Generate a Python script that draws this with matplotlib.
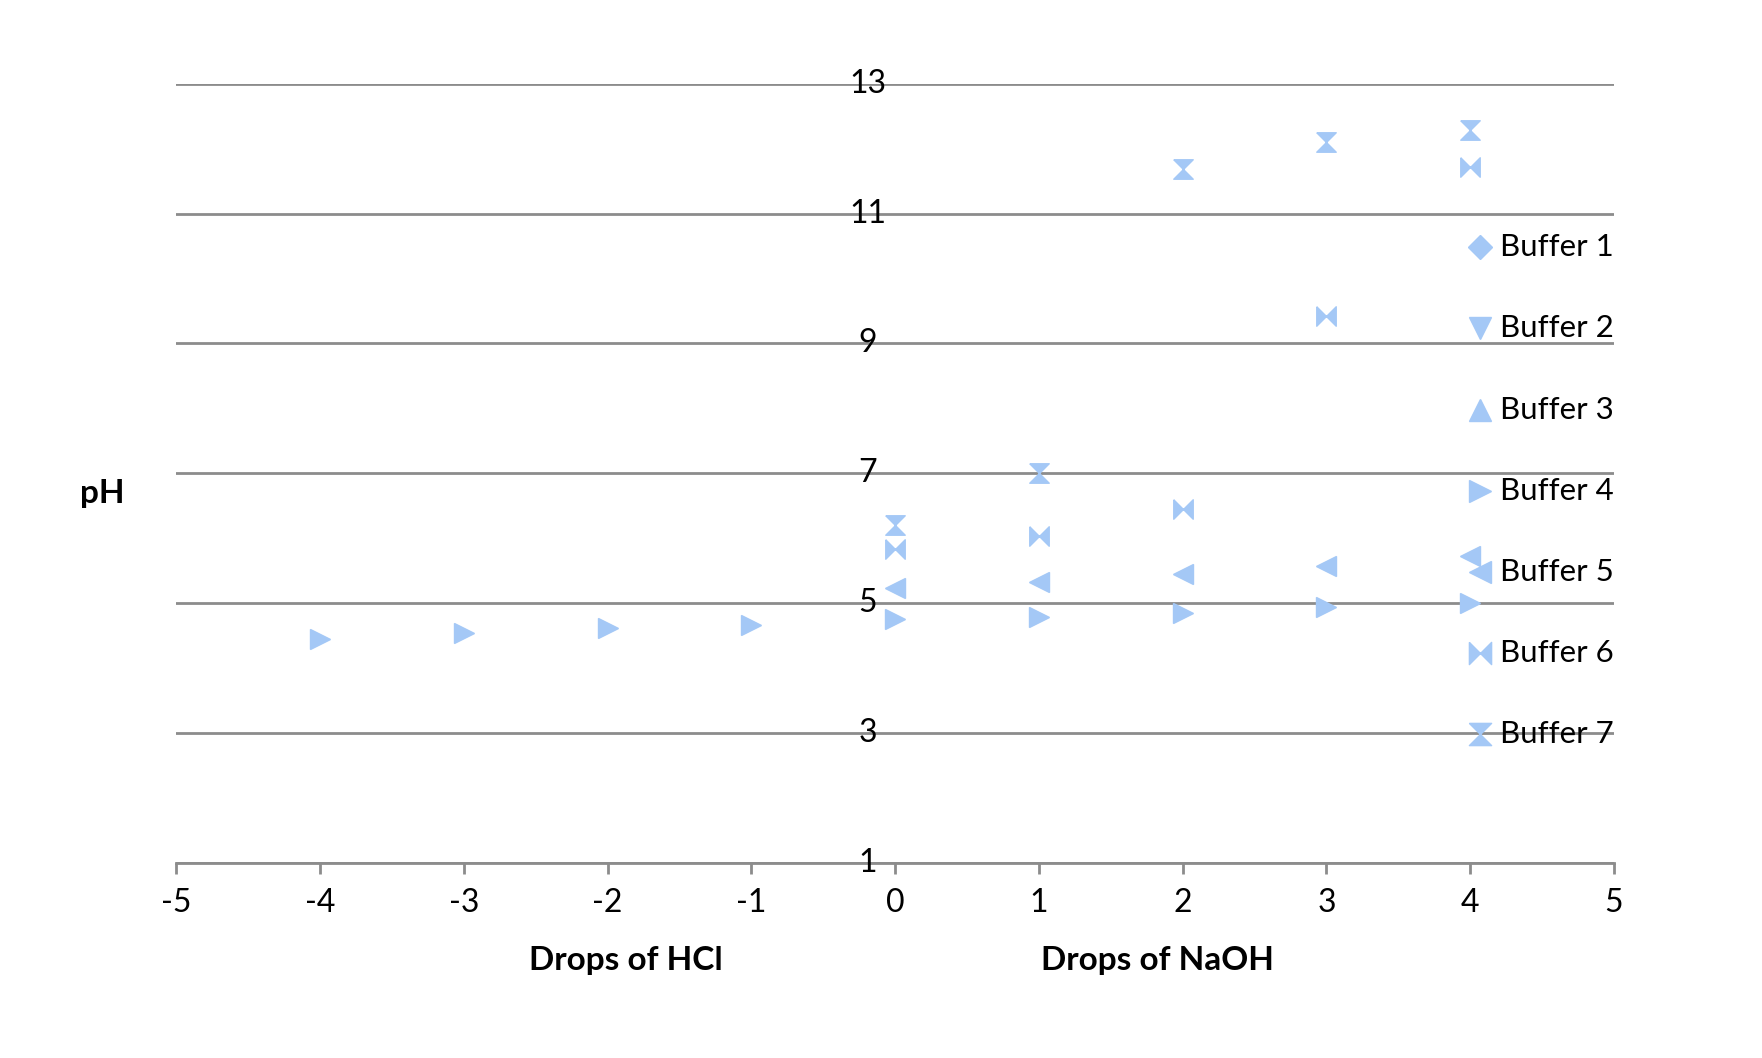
import matplotlib
matplotlib.use('Agg')
import matplotlib.pyplot as plt

plt.rcParams['font.family'] = ['Lato', 'DejaVu Sans']

drops = [0, 1, 2, 3, 4]
drops_b4 = [-4, -3, -2, -1, 0, 1, 2, 3, 4]
buffer4 = [4.46, 4.55, 4.62, 4.67, 4.76, 4.79, 4.86, 4.95, 5.0]
buffer5 = [5.24, 5.33, 5.45, 5.57, 5.73]
buffer6 = [5.83, 6.04, 6.45, 9.42, 11.72]
buffer7 = [6.21, 7.01, 11.68, 12.10, 12.29]
yticks = [1, 3, 5, 7, 9, 11, 13]
xticks = [-5, -4, -3, -2, -1, 0, 1, 2, 3, 4, 5]

color = '#a4c8f6'
bowtie = [(-1, 1), (-1, -1), (1, 1), (1, -1), (-1, 1)]
hourglass = [(-1, 1), (1, 1), (-1, -1), (1, -1), (-1, 1)]

fig = plt.figure(figsize=(17.62, 10.58), dpi=100)
ax = fig.add_axes([0.1, 0.184, 0.816, 0.737])
ms = 14
ax.plot(drops_b4, buffer4, '>', color=color, ms=ms, ls='none', label='Buffer 4')
ax.plot(drops, buffer5, '<', color=color, ms=ms, ls='none', label='Buffer 5')
ax.plot(drops, buffer6, marker=bowtie, color=color, ms=ms, ls='none', label='Buffer 6')
ax.plot(drops, buffer7, marker=hourglass, color=color, ms=ms, ls='none', label='Buffer 7')

ax.set_xlim(-5, 5)
ax.set_ylim(1, 13)
ax.set_xticks(xticks)
ax.set_xticklabels([str(v) for v in xticks], fontsize=23)
ax.set_yticks(yticks)
ax.set_yticklabels([])
for v in yticks:
    ax.axhline(v, color='#8c8c8c', lw=2, zorder=0)
    ax.text(-0.19, v, str(v), fontsize=23, ha='center', va='center')
for s in ['top', 'right', 'left']:
    ax.spines[s].set_visible(False)
ax.spines['bottom'].set_color('#8c8c8c')
ax.spines['bottom'].set_linewidth(2)
ax.tick_params(axis='x', length=8, width=2, color='#8c8c8c', pad=10)
ax.tick_params(axis='y', length=0)

# legend entries placed manually at the right side
legend = [('Buffer 1', 'D'), ('Buffer 2', 'v'), ('Buffer 3', '^'), ('Buffer 4', '>'),
          ('Buffer 5', '<'), ('Buffer 6', bowtie), ('Buffer 7', hourglass)]
for i, (name, m) in enumerate(legend):
    yy = 0.79 - i * 0.104
    ax.plot([0.907], [yy], marker=m, color=color, ms=16 if m != 'D' else 12,
            transform=ax.transAxes, clip_on=False, ls='none')
    ax.text(1.0, yy, name, transform=ax.transAxes, fontsize=22.5, ha='right', va='center')

fig.text(0.355, 0.083, 'Drops of HCl', fontsize=24, fontweight='bold', ha='center')
fig.text(0.657, 0.083, 'Drops of NaOH', fontsize=24, fontweight='bold', ha='center')
fig.text(0.058, 0.525, 'pH', fontsize=24, fontweight='bold', ha='center')

fig.savefig('out.png', dpi=100)
